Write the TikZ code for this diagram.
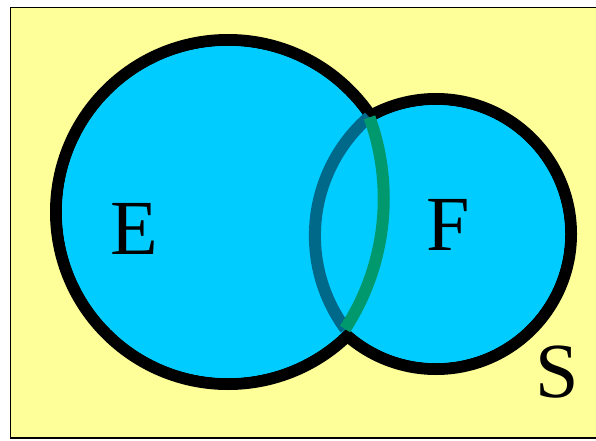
\documentclass[tikz,border=0pt]{standalone}
\usepackage{fontspec}
\setmainfont{Liberation Serif}
\usetikzlibrary{positioning}

\definecolor{bgyellow}{RGB}{255,255,153}
\definecolor{setblue}{RGB}{0,204,255}
\definecolor{arcgreen}{RGB}{0,153,110}
\definecolor{arcteal}{RGB}{0,104,136}

\begin{document}
\begin{tikzpicture}[
  x=1pt, y=1pt,
  set/.style={circle, draw=black, fill=setblue, line width=12pt, inner sep=0pt},
  letter/.style={font=\fontsize{78}{90}\selectfont, inner sep=0pt},
  overlap/.style={line width=12pt}
]
\clip (0,0) rectangle (596,440);

% Sample space
\node[draw=black, fill=bgyellow, line width=1.3pt, minimum width=620pt, minimum height=430pt,
      anchor=south west, inner sep=0pt] (space) at (9.5,1.5) {};

% Sets
\node[set, minimum size=344pt] (E) at (228,228) {};
\node[set, minimum size=270pt] (F) at (436,206) {};
% hide the outlines inside the union
\fill[setblue] (E.center) circle (166);
\fill[setblue] (F.center) circle (129);

% Boundaries inside the overlap
\coordinate (top) at (369,323);
\coordinate (bottom) at (345,111);
\draw[overlap, arcteal] (top) arc[start angle=131, end angle=216.4, radius=157.3];
\draw[overlap, arcgreen] (bottom) arc[start angle=-33.1, end angle=19.9, radius=238.8];

% Labels
\node[letter] (labelE) at (134,211) {E};
\node[letter] (labelF) at (448,215) {F};
\node[letter] (labelS) at (557,68) {S};

\end{tikzpicture}
\end{document}
